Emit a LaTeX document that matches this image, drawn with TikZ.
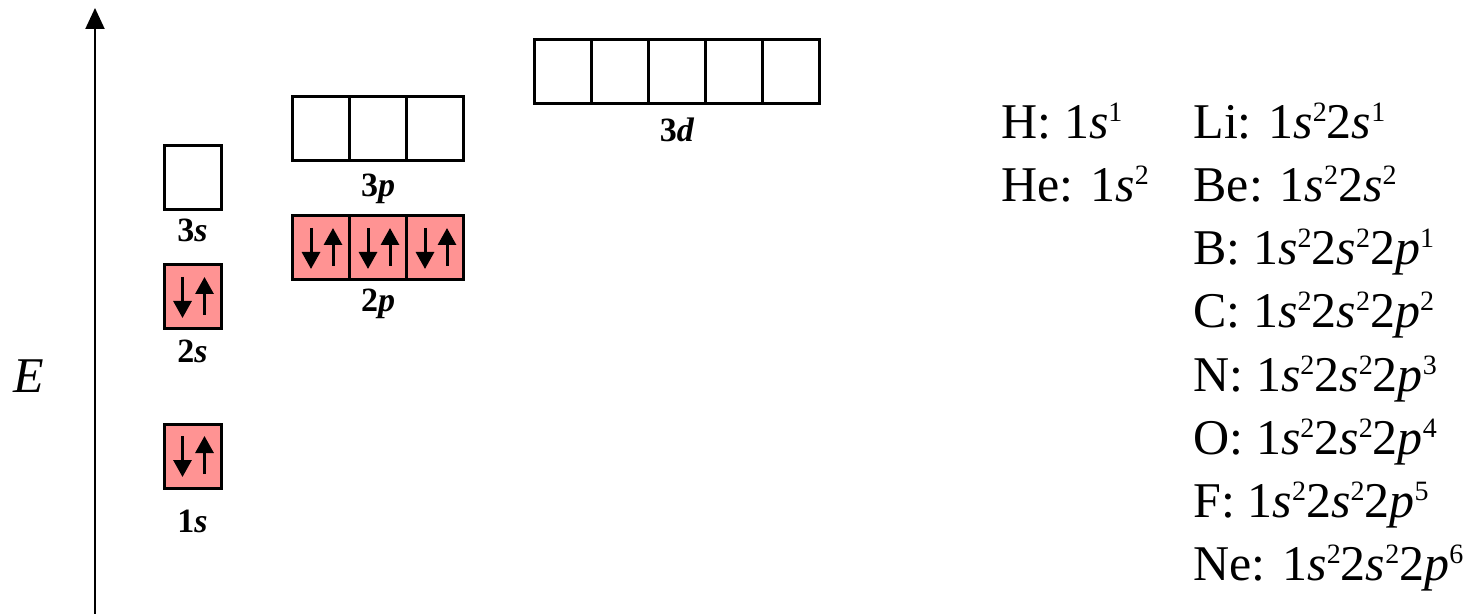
\documentclass[tikz,border=0pt]{standalone}
\usepackage{fontspec}
\setmainfont{Liberation Serif}
\usetikzlibrary{arrows.meta,positioning}

\definecolor{occupied}{RGB}{255,147,147}
\newcommand\esup[1]{\raisebox{8.5pt}{\fontsize{14}{14}\selectfont #1}}

\begin{document}
\begin{tikzpicture}[
    x = 0.5pt, y = -0.5pt, % one unit per pixel, y going down
    node distance = 0pt, % boxes of one subshell touch
    line width = 1.5pt % box line style
    ]

    \tikzset{orb/.style={
    draw = black,
    fill = white,
    inner sep = 0pt,
    outer sep = 0pt,
    minimum width = 28.5pt,
    minimum height = 32pt
    }}
    \tikzset{full/.style={orb, fill = occupied}}
    \tikzset{lbl/.style={font=\fontsize{17}{20}\selectfont\bfseries, anchor=base, inner sep=0pt}}
    \tikzset{conf/.style={font=\fontsize{25}{30}\selectfont, anchor=base west, inner sep=0pt}}
    \tikzset{spin/.style={line width=1.5pt, -{Triangle[length=8.5pt,width=9pt]}}}

    \useasboundingbox (0,0) rectangle (1465,614);

    % energy axis
    \coordinate (axbot) at (95,614);
    \coordinate (axtop) at (95,8);
    \draw[line width=1pt, -{Triangle[length=10.5pt,width=9.5pt]}] (axbot) -- (axtop);
    \node[font=\fontsize{25}{30}\selectfont\itshape, anchor=base, inner sep=0pt] (E) at (29,392) {E};

    % s orbitals
    \node[full] (s1) at (192.5,456) {};
    \node[full] (s2) at (192.5,297) {};
    \node[orb] (s3) at (192.5,177.5) {};

    % p orbitals
    \node[full] (p2a) at (321,248) {};
    \node[full] (p2b) [right=of p2a] {};
    \node[full] (p2c) [right=of p2b] {};
    \node[orb] (p3a) at (321,128.5) {};
    \node[orb] (p3b) [right=of p3a] {};
    \node[orb] (p3c) [right=of p3b] {};

    % d orbitals
    \node[orb] (d3a) at (563,71.5) {};
    \node[orb] (d3b) [right=of d3a] {};
    \node[orb] (d3c) [right=of d3b] {};
    \node[orb] (d3d) [right=of d3c] {};
    \node[orb] (d3e) [right=of d3d] {};

    % electron pairs
    \foreach \o in {s1,s2,p2a,p2b,p2c}{
    \draw[spin] ([xshift=-5pt,yshift=10pt]\o.center) -- ([xshift=-5pt,yshift=-10.5pt]\o.center);
    \draw[spin] ([xshift=6pt,yshift=-9pt]\o.center) -- ([xshift=6pt,yshift=10pt]\o.center);
    }

    % subshell labels
    \node[lbl] (l1s) at ([yshift=-22pt]s1.south) {1\textit{s}};
    \node[lbl] (l2s) at ([yshift=-17pt]s2.south) {2\textit{s}};
    \node[lbl] (l3s) at ([yshift=-16.25pt]s3.south) {3\textit{s}};
    \node[lbl] (l2p) at ([yshift=-16pt]p2b.south) {2\textit{p}};
    \node[lbl] (l3p) at ([yshift=-18pt]p3b.south) {3\textit{p}};
    \node[lbl] (l3d) at ([yshift=-19pt]d3c.south) {3\textit{d}};

    % configurations
    \node[conf] (H) at (1000,139) {H: 1\textit{s}\esup{1}};
    \node[conf] (He) at ([yshift=-31.5pt]H.base west) {He: 1\textit{s}\esup{2}};
    \node[conf] (Li) at (1192,139) {Li: 1\textit{s}\esup{2}2\textit{s}\esup{1}};
    \node[conf] (Be) at ([yshift=-31.5pt]Li.base west) {Be: 1\textit{s}\esup{2}2\textit{s}\esup{2}};
    \node[conf] (B) at ([yshift=-31.5pt]Be.base west) {B: 1\textit{s}\esup{2}2\textit{s}\esup{2}2\textit{p}\esup{1}};
    \node[conf] (C) at ([yshift=-31.5pt]B.base west) {C: 1\textit{s}\esup{2}2\textit{s}\esup{2}2\textit{p}\esup{2}};
    \node[conf] (N) at ([yshift=-31.5pt]C.base west) {N: 1\textit{s}\esup{2}2\textit{s}\esup{2}2\textit{p}\esup{3}};
    \node[conf] (O) at ([yshift=-31.5pt]N.base west) {O: 1\textit{s}\esup{2}2\textit{s}\esup{2}2\textit{p}\esup{4}};
    \node[conf] (F) at ([yshift=-31.5pt]O.base west) {F: 1\textit{s}\esup{2}2\textit{s}\esup{2}2\textit{p}\esup{5}};
    \node[conf] (Ne) at ([yshift=-31.5pt]F.base west) {Ne: 1\textit{s}\esup{2}2\textit{s}\esup{2}2\textit{p}\esup{6}};
\end{tikzpicture}
\end{document}
